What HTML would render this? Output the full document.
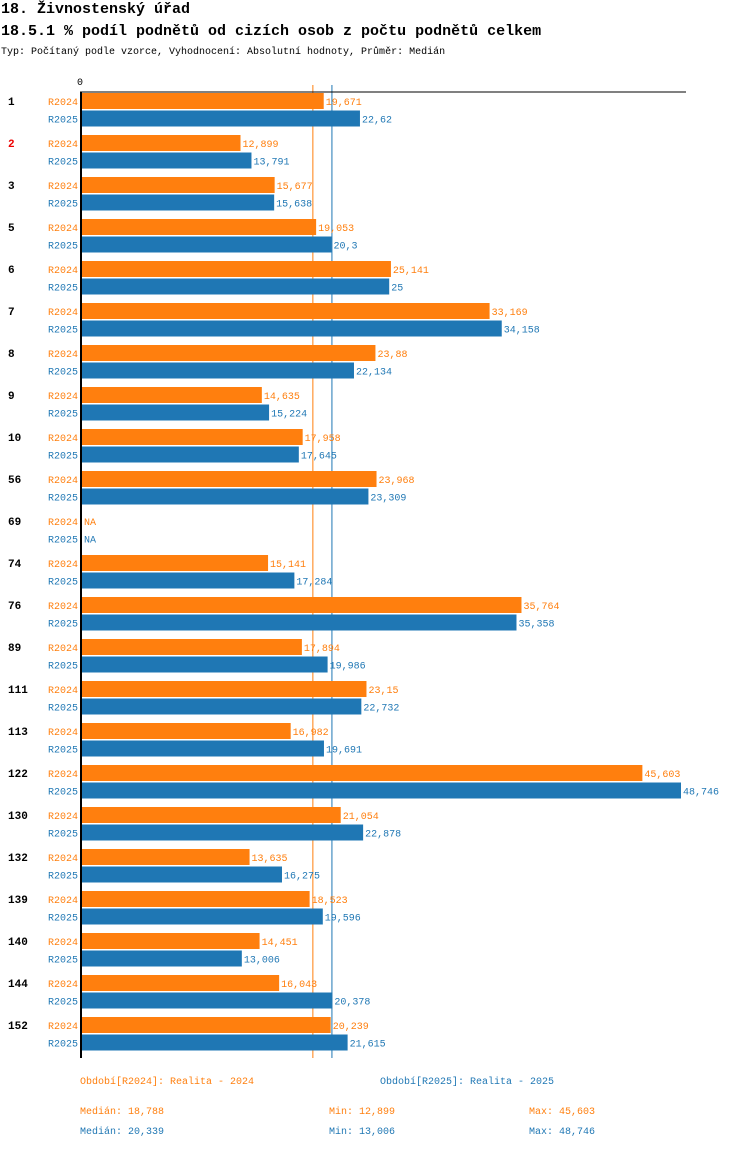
<!DOCTYPE html>
<html><head><meta charset="utf-8"><style>
body{margin:0;background:#fff;width:750px;height:1148px;overflow:hidden}
svg text{font-family:"Liberation Mono","DejaVu Sans Mono",monospace}
</style></head><body>
<svg id="c" width="750" height="1148">
<text x="1" y="13" font-size="15" font-weight="bold">18. Živnostenský úřad</text>
<text x="1" y="35" font-size="15" font-weight="bold">18.5.1 % podíl podnětů od cizích osob z počtu podnětů celkem</text>
<text x="1" y="54" font-size="10">Typ: Počítaný podle vzorce, Vyhodnocení: Absolutní hodnoty, Průměr: Medián</text>
<text x="80" y="85" font-size="10" text-anchor="middle">0</text>
<g id="m"></g>
<g id="g"></g>
<line x1="80" y1="92" x2="686" y2="92" stroke="#000" stroke-width="1"/>
<line x1="81" y1="92" x2="81" y2="1058" stroke="#000" stroke-width="2"/>
<text x="80" y="1084" font-size="10" fill="#ff7f0e">Období[R2024]: Realita - 2024</text>
<text x="380" y="1084" font-size="10" fill="#1f77b4">Období[R2025]: Realita - 2025</text>
<text x="80" y="1114" font-size="10" fill="#ff7f0e">Medián: 18,788</text>
<text x="329" y="1114" font-size="10" fill="#ff7f0e">Min: 12,899</text>
<text x="529" y="1114" font-size="10" fill="#ff7f0e">Max: 45,603</text>
<text x="80" y="1134" font-size="10" fill="#1f77b4">Medián: 20,339</text>
<text x="329" y="1134" font-size="10" fill="#1f77b4">Min: 13,006</text>
<text x="529" y="1134" font-size="10" fill="#1f77b4">Max: 48,746</text>
</svg>
<script>
const categories=["1","2","3","5","6","7","8","9","10","56","69","74","76","89","111","113","122","130","132","139","140","144","152"];
const r2024=[19.671,12.899,15.677,19.053,25.141,33.169,23.88,14.635,17.958,23.968,null,15.141,35.764,17.894,23.15,16.982,45.603,21.054,13.635,18.523,14.451,16.043,20.239];
const r2025=[22.62,13.791,15.638,20.3,25,34.158,22.134,15.224,17.645,23.309,null,17.284,35.358,19.986,22.732,19.691,48.746,22.878,16.275,19.596,13.006,20.378,21.615];
const medians=[18.788,20.339];
const series=[{name:"R2024",vals:r2024,col:"#ff7f0e"},{name:"R2025",vals:r2025,col:"#1f77b4"}];
const NS="http://www.w3.org/2000/svg";
const g=document.getElementById("g");
const mg=document.getElementById("m");
const x=v=>82+v*(681-82)/48.746;
const yRow=(i,s)=>93+i*42+s*17.5;
function mk(t,a,p){const e=document.createElementNS(NS,t);for(const k in a)e.setAttribute(k,a[k]);(p||g).appendChild(e);return e;}
const fmt=v=>String(v).replace('.',',');
categories.forEach((c,i)=>{
  const t=mk("text",{x:8,y:yRow(i,0)+12,"font-size":11,"font-weight":"bold",fill:c==="2"?"#e00":"#000"});
  t.textContent=c;
  
  
  series.forEach((s,si)=>{
    const y=yRow(i,si);const v=s.vals[i];
    const l=mk("text",{x:78,y:y+12,"font-size":10,"text-anchor":"end",fill:s.col});
    l.textContent=s.name;
    
    
    if(v!==null){
      const r=mk("rect",{x:82,y:y,width:x(v)-82,height:16,fill:s.col});
      
      
    }
    const vt=mk("text",{x:(v===null?82:x(v))+2,y:y+12,"font-size":10,fill:s.col});
    vt.textContent=v===null?"NA":fmt(v);
    
    
  });
});
medians.forEach((m,mi)=>{
  const l=mk("line",{x1:x(m),x2:x(m),y1:85,y2:1058,stroke:series[mi].col,"stroke-width":1},mg);
  
  
});
</script>
</body></html>
